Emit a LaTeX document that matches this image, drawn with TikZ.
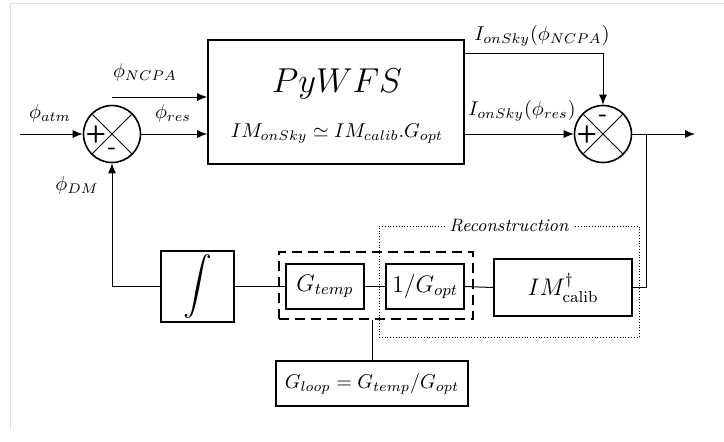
\documentclass[tikz,border=0pt]{standalone}
\usepackage{amsmath}
\usepackage{amssymb}
\usepackage{tikz}
\usetikzlibrary{arrows.meta,calc}

\tikzset{
  block/.style={draw, line width=0.8pt, inner sep=0pt, align=center},
  sumnode/.style={draw, circle, line width=0.8pt, minimum size=28.5pt, inner sep=0pt},
  sig/.style={line width=0.5pt, -{Latex[length=5pt,width=4pt]}},
  wire/.style={line width=0.5pt},
  sign/.style={font=\large\sffamily\bfseries, inner sep=0pt},
}

\begin{document}
\begin{tikzpicture}[x=0.5pt,y=0.5pt,yscale=-1,xscale=1]
\useasboundingbox (0,0) rectangle (724,441);
% page edge
\draw [black!12, line width=0.5pt] (10,430) -- (10,3) -- (724,3);

% summing points
\node [sumnode] (sum1) at (112,134) {};
\draw [line width=0.4pt] (sum1.north west) -- (sum1.south east) (sum1.north east) -- (sum1.south west);
\node [sign] (sum1p) at ($(sum1)+(-16,0)$) {+};
\node [sign] (sum1m) at ($(sum1)+(0,17)$) {-};

\node [sumnode] (sum2) at (603,134) {};
\draw [line width=0.4pt] (sum2.north west) -- (sum2.south east) (sum2.north east) -- (sum2.south west);
\node [sign] (sum2p) at ($(sum2)+(-16,0)$) {+};
\node [sign] (sum2m) at ($(sum2)+(0,-16)$) {-};

% wavefront sensor
\node [block, minimum width=128pt, minimum height=62pt] (wfs) at (336,102) {};
\node (wfsname) at (337,84) {\LARGE $PyWFS$};
\node (wfseq) at (337,134) {$IM_{onSky} \simeq IM_{calib}.G_{opt}$};

% feedback path
\node [block, minimum width=36.5pt, minimum height=35.5pt] (integ) at (197.5,286.5) {\Large $\displaystyle\int$};
\node [block, minimum width=39pt, minimum height=22.5pt] (gtemp) at (325,286.5) {\large $G_{temp}$};
\node [block, minimum width=39pt, minimum height=22.5pt] (gopt) at (425,286.5) {\large $1/G_{opt}$};
\node [block, minimum width=69pt, minimum height=28.5pt] (imcalib) at (563,287.5) {\large $IM^{\dagger}_{\mathrm{calib}}$};
\node [block, minimum width=96pt, minimum height=22.5pt] (gloop) at (372,383.5) {$G_{loop} = G_{temp}/G_{opt}$};

% groups
\node [draw, dashed, line width=0.8pt, dash pattern=on 5pt off 3pt, minimum width=97pt, minimum height=33.5pt, inner sep=0pt] (group) at (376,285.5) {};
\node [draw, densely dotted, line width=0.4pt, minimum width=130pt, minimum height=55.5pt, inner sep=0pt] (recon) at (509,281.5) {};
\node [fill=white, inner sep=2pt, font=\small\itshape] (reconlbl) at (recon.north) {Reconstruction};

% free ends
\coordinate (atmin) at (20,134);
\coordinate (ncpain) at (112,97);
\coordinate (branch) at (646,134);
\coordinate (out) at (695,134);

% signals
\draw [sig] (atmin) -- (sum1.west);
\draw [sig] (sum1.east) -- (wfs.west |- sum1);
\draw [sig] (ncpain) -- (ncpain -| wfs.west);
\draw [sig] ($(wfs.north east)+(0,14)$) -| (sum2.north);
\draw [sig] (wfs.east |- sum2) -- (sum2.west);
\draw [sig] (sum2.east) -- (out);
\draw [wire] (branch) |- (imcalib.east);
\draw [wire] (imcalib.west) -- (gopt.east);
\draw [wire] (gopt.west) -- (gtemp.east);
\draw [wire] (gtemp.west) -- (integ.east);
\draw [sig] (integ.west) -| (sum1.south);
\draw [wire] (gloop.north) -- (gloop.north |- group.south);

% labels
\node (atmlbl) at (50,113) {$\phi_{atm}$};
\node (reslbl) at (173,113) {$\phi_{res}$};
\node (ncpalbl) at (145,72) {$\phi_{NCPA}$};
\node (dmlbl) at (77,185) {$\phi_{DM}$};
\node (skyncpa) at (542,36) {$I_{onSky}(\phi_{NCPA})$};
\node (skyres) at (522,111) {$I_{onSky}(\phi_{res})$};

\end{tikzpicture}
\end{document}
